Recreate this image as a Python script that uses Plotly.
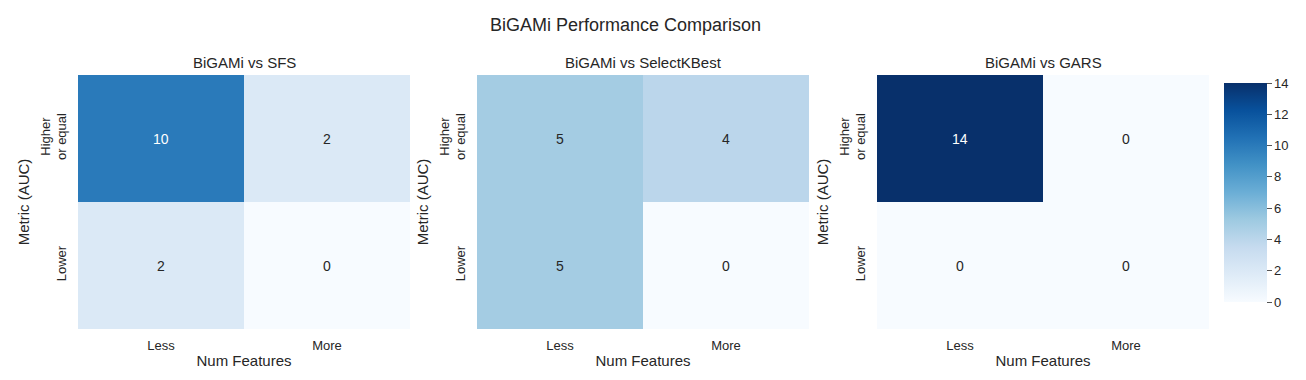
import plotly.graph_objects as go

# Data
x_labels = ["Less", "More"]
y_labels = ["Higher<br>or equal", "Lower"]
titles = ["BiGAMi vs SFS", "BiGAMi vs SelectKBest", "BiGAMi vs GARS"]
sfs_counts = [[10, 2], [2, 0]]
skb_counts = [[5, 4], [5, 0]]
gars_counts = [[14, 0], [0, 0]]
panels = [sfs_counts, skb_counts, gars_counts]
zmin, zmax = 0, 14
cbar_ticks = [0, 2, 4, 6, 8, 10, 12, 14]

blues = [
    [0.0, "#f7fbff"], [0.125, "#deebf7"], [0.25, "#c6dbef"], [0.375, "#9ecae1"],
    [0.5, "#6baed6"], [0.625, "#4292c6"], [0.75, "#2171b5"], [0.875, "#08519c"],
    [1.0, "#08306b"],
]

# page body has an 8px margin; figure sized to fit inside the window
OFF = 8
W, H = 1306 - 2 * OFF, 380 - 2 * OFF
FONT = "Liberation Sans, Arial, sans-serif"
TXT = "#262626"


def px(x):
    return (x - OFF) / W


def py(y):
    return 1 - (y - OFF) / H


x_dom = [(px(78), px(410)), (px(477), px(809)), (px(877), px(1209))]
y_dom = (py(329), py(75))

fig = go.Figure()
annotations = []
for i, (z, t) in enumerate(zip(panels, titles)):
    sfx = "" if i == 0 else str(i + 1)
    fig.add_trace(go.Heatmap(
        z=z, x=x_labels, y=y_labels, zmin=zmin, zmax=zmax,
        colorscale=blues, xaxis="x" + sfx, yaxis="y" + sfx,
        showscale=(i == 2),
        colorbar=dict(
            x=px(1224), xanchor="left", xpad=0, ypad=0, thickness=43, thicknessmode="pixels",
            len=219, lenmode="pixels", y=py(192.5), yanchor="middle",
            outlinewidth=0, tickvals=cbar_ticks, ticks="outside", ticklen=5,
            tickprefix="\u00a0\u00a0",
            tickcolor="#555555", tickfont=dict(size=13, color=TXT, family=FONT),
        ) if i == 2 else None,
        hoverinfo="z",
    ))
    fig.layout["xaxis" + sfx] = dict(
        domain=list(x_dom[i]), anchor="y" + sfx, showgrid=False, zeroline=False,
        showline=False, ticks="", tickfont=dict(size=13, color=TXT, family=FONT),
        ticklabelstandoff=7, automargin=False,
        title=dict(text="Num Features", font=dict(size=15, color=TXT, family=FONT), standoff=3),
    )
    fig.layout["yaxis" + sfx] = dict(
        domain=list(y_dom), anchor="x" + sfx, showgrid=False, zeroline=False,
        showline=False, ticks="", autorange="reversed", tickangle=-90,
        tickfont=dict(size=13, color=TXT, family=FONT), ticklabelstandoff=8,
        automargin=False,
        title=dict(text="Metric (AUC)", font=dict(size=15, color=TXT, family=FONT), standoff=4),
    )
    # subplot title
    annotations.append(dict(
        text=t, x=(x_dom[i][0] + x_dom[i][1]) / 2, y=py(62), xref="paper", yref="paper",
        showarrow=False, font=dict(size=15, color=TXT, family=FONT),
        xanchor="center", yanchor="middle",
    ))
    # cell values
    for r, yl in enumerate(y_labels):
        for c, xl in enumerate(x_labels):
            v = z[r][c]
            annotations.append(dict(
                text=str(v), x=xl, y=yl, xref="x" + sfx, yref="y" + sfx,
                showarrow=False,
                font=dict(size=14, family=FONT, color="white" if v / zmax > 0.6 else TXT),
            ))

annotations.append(dict(
    text="BiGAMi Performance Comparison", x=px(625), y=py(25), xref="paper", yref="paper",
    showarrow=False, font=dict(size=18, color=TXT, family=FONT), xanchor="center", yanchor="middle",
))

fig.update_layout(
    width=W, height=H, margin=dict(l=0, r=0, t=0, b=0, autoexpand=False),
    paper_bgcolor="white", plot_bgcolor="white",
    annotations=annotations, font=dict(family=FONT, color=TXT),
)

fig.write_html("out.html")
